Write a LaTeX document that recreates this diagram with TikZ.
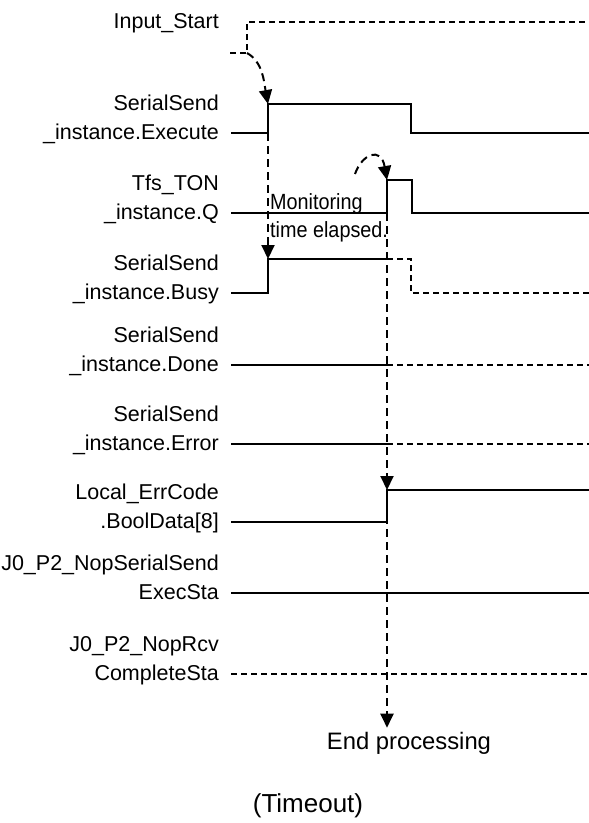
\documentclass[tikz,border=0pt]{standalone}
\usepackage{fontspec}
\setmainfont{Liberation Sans}
\newfontfamily\narrowfont[FakeStretch=0.9]{Liberation Sans}
\usetikzlibrary{arrows.meta}

\begin{document}
\begin{tikzpicture}[x=1pt,y=-1pt,
      sig/.style={anchor=south east, align=right, inner sep=0pt,
        font=\fontsize{21.5}{29.5}\selectfont},
      wave/.style={line width=1.6pt},
      fut/.style={line width=1.4pt, dash pattern=on 6pt off 4pt},
      flow/.style={line width=2pt, dash pattern=on 8pt off 5pt,
        -{Triangle[length=14pt,width=13pt]}},
      >=Stealth]
    \useasboundingbox (0,0) rectangle (589,823);
    % signal names
    \node[sig] (lStart) at (219,38)  {Input\_Start\strut};
    \node[sig] (lExec)  at (219,149) {SerialSend\\\_instance.Execute\strut};
    \node[sig] (lQ)     at (219,229) {Tfs\_TON\\\_instance.Q\strut};
    \node[sig] (lBusy)  at (219,309) {SerialSend\\\_instance.Busy\strut};
    \node[sig] (lDone)  at (219,381) {SerialSend\\\_instance.Done\strut};
    \node[sig] (lErr)   at (219,460) {SerialSend\\\_instance.Error\strut};
    \node[sig] (lBool)  at (219,538) {Local\_ErrCode\\.BoolData[8]\strut};
    \node[sig] (lSta)   at (219,609) {J0\_P2\_NopSerialSend\\ExecSta\strut};
    \node[sig] (lCmpl)  at (219,690) {J0\_P2\_NopRcv\\CompleteSta\strut};
    \node[anchor=south west, align=left, inner sep=0pt,
      font=\narrowfont\fontsize{22}{28}\selectfont] (mon) at (270,246)
      {Monitoring\\time elapsed.\strut};
    \node[font=\fontsize{23.8}{26}\selectfont, inner sep=4pt] (endp) at (409,743) {End processing};
    \node[font=\fontsize{26}{28}\selectfont] (tout) at (308,806) {(Timeout)};
    % edges of interest
    \coordinate (startLow) at (247,53);
    \coordinate (execHigh) at (268,104);
    \coordinate (execRise) at (268,133);
    \coordinate (busyRise) at (268,259);
    \coordinate (tonArc)   at (355,174);
    \coordinate (tonHigh)  at (387,180);
    \coordinate (tonRise)  at (387,213);
    \coordinate (errRise)  at (387,490);
    % waveforms
    \draw[fut] (230,53) -- (startLow) -- (247,22) -- (589,22);
    \draw[wave] (231,133) -- (execRise) -- (execHigh) -- (411,104) -- (411,133) -- (589,133);
    \draw[wave] (231,213) -- (tonRise) -- (tonHigh) -- (412,180) -- (412,213) -- (589,213);
    \draw[wave] (231,293) -- (268,293) -- (busyRise) -- (387,259);
    \draw[fut] (387,259) -- (411,259) -- (411,293) -- (589,293);
    \draw[wave] (231,365) -- (387,365);
    \draw[fut] (387,365) -- (589,365);
    \draw[wave] (231,444) -- (387,444);
    \draw[fut] (387,444) -- (589,444);
    \draw[wave] (231,522) -- (387,522) -- (errRise) -- (589,490);
    \draw[wave] (231,593) -- (589,593);
    \draw[fut] (231,674) -- (589,674);
    % cause and effect
    \draw[flow] (startLow) .. controls (263,62) and (264,82) .. (execHigh);
    \draw[flow] (tonArc) .. controls (362,154) and (381,146) .. (tonHigh);
    \draw[flow] (execRise) -- (busyRise);
    \draw[flow] (tonRise) -- (errRise);
    \draw[flow] (errRise) -- (tonRise |- endp.north);
  \end{tikzpicture}
\end{document}
